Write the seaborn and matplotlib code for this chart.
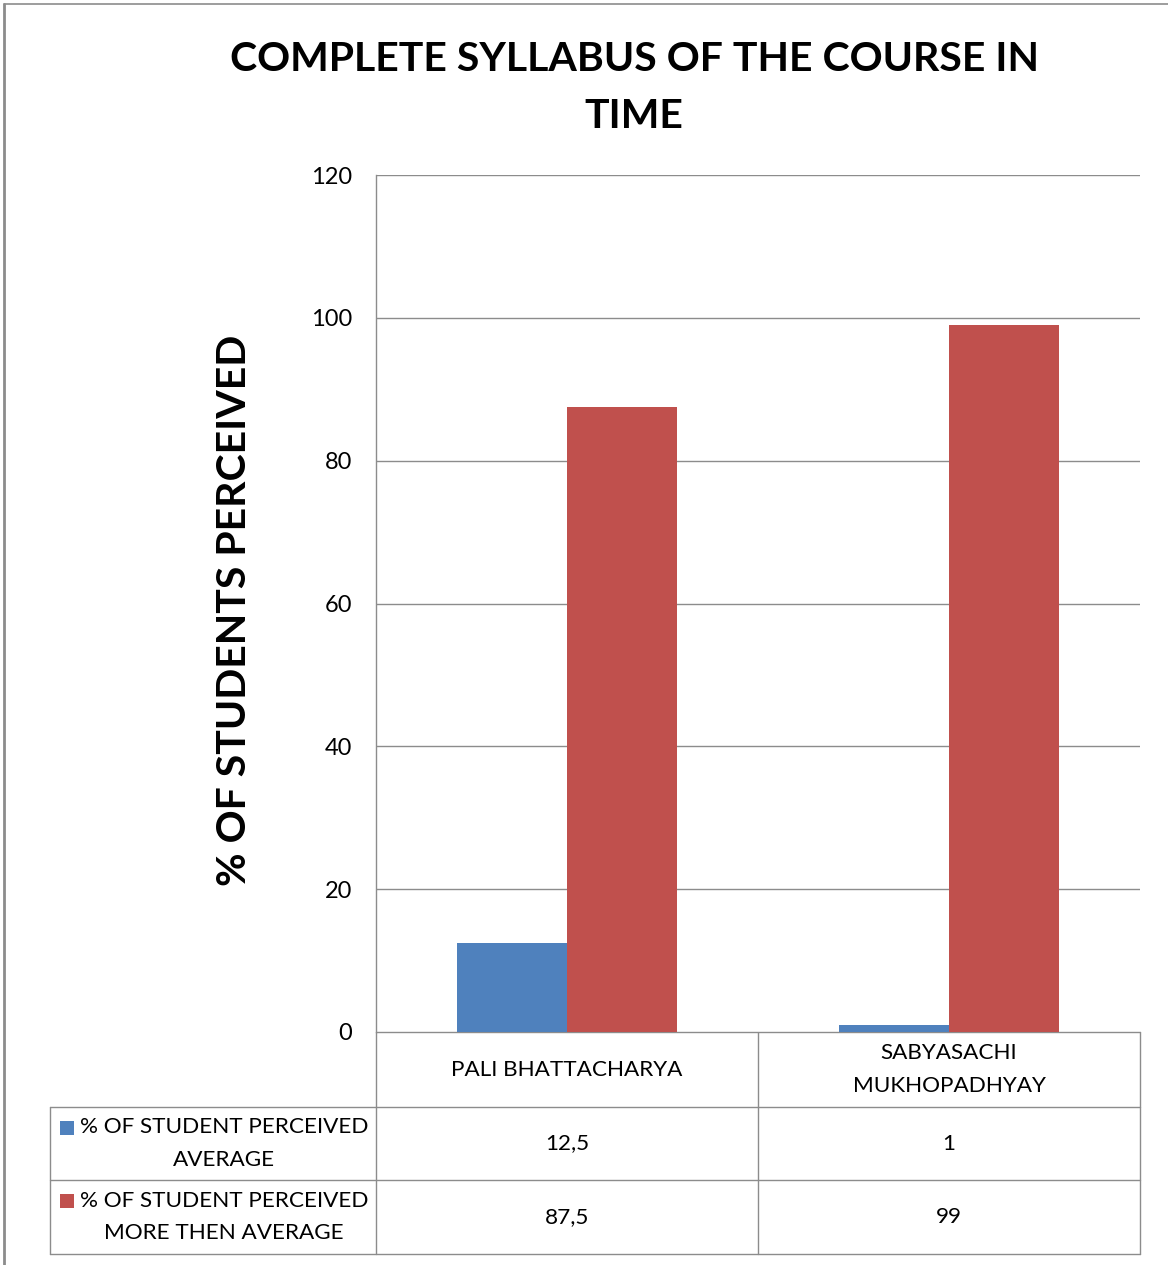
import numpy as np
import pandas as pd
import matplotlib
matplotlib.use("Agg")
import matplotlib.pyplot as plt
import seaborn as sns
from matplotlib.lines import Line2D
from matplotlib.patches import Rectangle

# ---------------- data ----------------
title = "COMPLETE SYLLABUS OF THE COURSE IN\nTIME"
y_label = "% OF STUDENTS PERCEIVED"
teachers = ["PALI BHATTACHARYA", "SABYASACHI MUKHOPADHYAY"]
teacher_labels = ["PALI BHATTACHARYA", "SABYASACHI\nMUKHOPADHYAY"]
series = ["% OF STUDENT PERCEIVED AVERAGE", "% OF STUDENT PERCEIVED MORE THEN AVERAGE"]
series_labels = ["% OF STUDENT PERCEIVED\nAVERAGE", "% OF STUDENT PERCEIVED\nMORE THEN AVERAGE"]
average_vals = [12.5, 1]
more_vals = [87.5, 99]
y_ticks = [0, 20, 40, 60, 80, 100, 120]
colors = ["#4F81BD", "#C0504D"]

# ---------------- style ----------------
W, H = 1168, 1265
sns.set_style("white")
plt.rcParams['font.family'] = ['Lato', 'DejaVu Sans']
GRID = "#8c8c8c"

fig = plt.figure(figsize=(W / 100, H / 100), dpi=100)

# plot area in pixels
L, R, T, B = 376, 1140, 175, 1032
ax = fig.add_axes([L / W, 1 - B / H, (R - L) / W, (B - T) / H])

df = pd.DataFrame({
    "teacher": teachers * 2,
    "value": average_vals + more_vals,
    "series": [series[0]] * len(teachers) + [series[1]] * len(teachers),
})
sns.barplot(data=df, x="teacher", y="value", hue="series", palette=colors,
            width=0.575, gap=0, saturation=1, legend=False, ax=ax,
            order=teachers, hue_order=series, linewidth=0, edgecolor="none")

ax.set_xlim(-0.5, len(teachers) - 0.5)
ax.set_ylim(y_ticks[0], y_ticks[-1])
ax.set_yticks(y_ticks)
ax.set_yticklabels([str(t) for t in y_ticks], fontsize=17)
ax.tick_params(axis="y", length=0, pad=17, labelcolor="black")
ax.set_xticks([])
ax.set_xlabel("")
ax.set_ylabel("")
ax.grid(axis="y", color=GRID, linewidth=1)
ax.set_axisbelow(True)
for s in ["top", "right", "bottom"]:
    ax.spines[s].set_visible(False)
ax.spines["left"].set_color(GRID)
ax.spines["left"].set_linewidth(1)

# ---------------- overlay for table / texts (pixel coords) ----------------
ov = fig.add_axes([0, 0, 1, 1], zorder=-1)
ov.set_xlim(0, W)
ov.set_ylim(H, 0)
ov.axis("off")

# outer border
ov.add_line(Line2D([4, W], [4, 4], color="#8c8c8c", lw=1.2))
ov.add_line(Line2D([4, 4], [4, H], color="#8c8c8c", lw=2))

fig.text(634 / W, 1 - 88 / H, title, ha="center", va="center", fontsize=29.5,
         fontweight="bold", linespacing=1.66, color="black")
fig.text(235 / W, 1 - 610 / H, y_label, ha="center", va="center", fontsize=29.5,
         fontweight="bold", rotation=90, color="black")

# table geometry
TL = 50
row_y = [B, 1107, 1180, 1254]
ncat = len(teachers)
col_x = [L + (R - L) * i / ncat for i in range(ncat + 1)]

ov.add_line(Line2D([L, R], [row_y[0], row_y[0]], color=GRID, lw=1))
for y in row_y[1:]:
    ov.add_line(Line2D([TL, R], [y, y], color=GRID, lw=1))
for x in col_x:
    ov.add_line(Line2D([x, x], [row_y[0], row_y[-1]], color=GRID, lw=1))
ov.add_line(Line2D([TL, TL], [row_y[1], row_y[-1]], color=GRID, lw=1))

FS = 16.2
LS = 1.78
for i, lab in enumerate(teacher_labels):
    cx = (col_x[i] + col_x[i + 1]) / 2
    ov.text(cx, (row_y[0] + row_y[1]) / 2, lab, ha="center", va="center",
            fontsize=FS, linespacing=LS, color="black")

rows = [average_vals, more_vals]
for r, (vals, lab, c) in enumerate(zip(rows, series_labels, colors)):
    y0, y1 = row_y[r + 1], row_y[r + 2]
    cy = (y0 + y1) / 2
    ov.text(224, cy, lab, ha="center", va="center", fontsize=FS,
            linespacing=LS, multialignment="center", color="black")
    ov.add_patch(Rectangle((60, cy - 16 - 7), 14, 14, color=c, lw=0))
    for i, v in enumerate(vals):
        cx = (col_x[i] + col_x[i + 1]) / 2
        txt = ("%g" % v).replace(".", ",")
        ov.text(cx, cy, txt, ha="center", va="center", fontsize=FS, color="black")

fig.savefig("out.png", dpi=100)
